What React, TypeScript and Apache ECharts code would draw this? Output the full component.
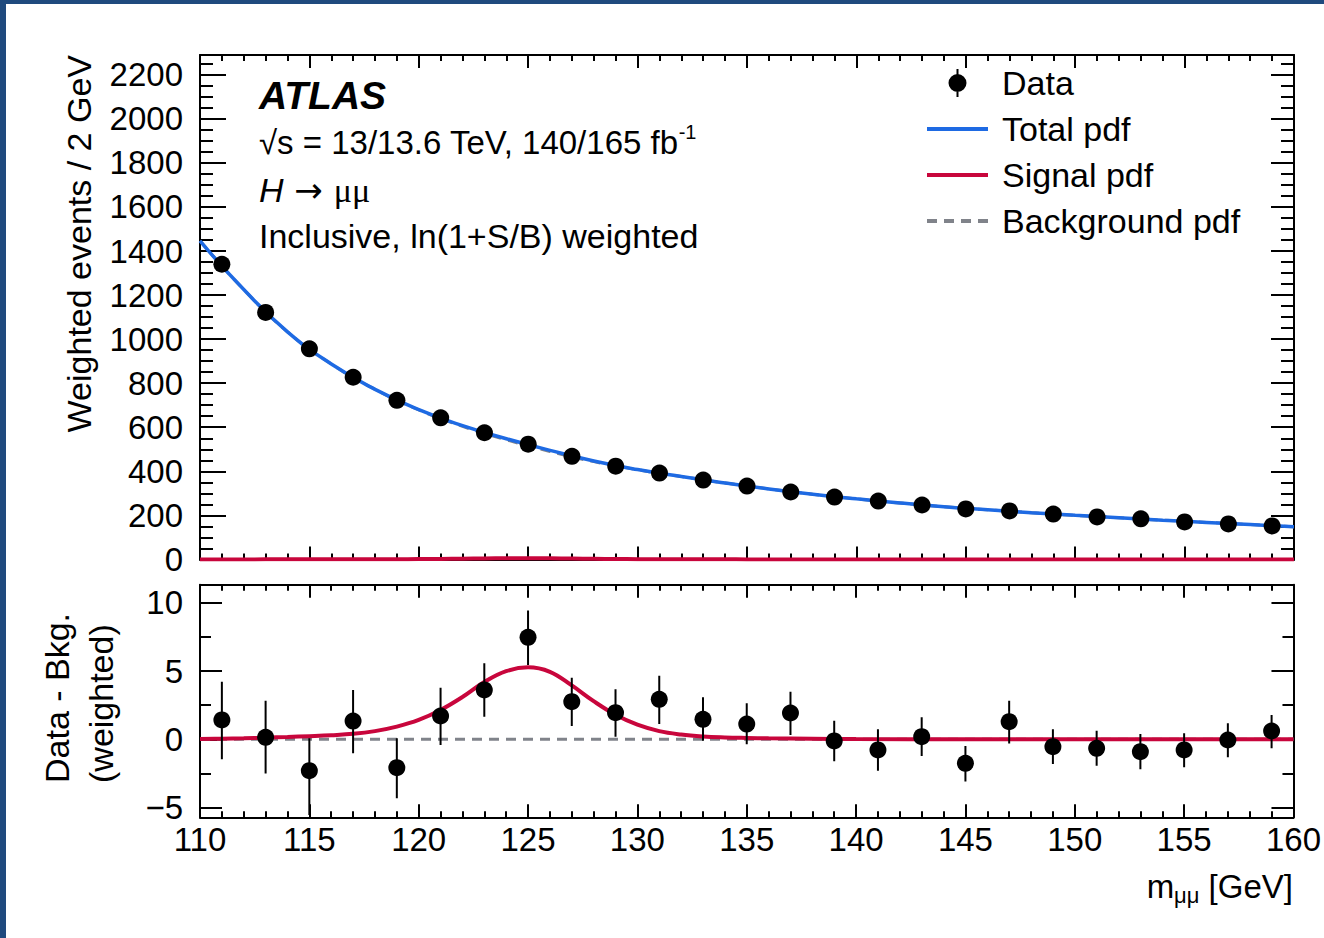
import React, { useEffect, useRef } from "react";
import * as echarts from "echarts";

// ---------------- data ----------------
const X_MIN = 110;
const X_MAX = 160;
const X_INTERVAL = 5;
const TOP_Y_MIN = 0;
const TOP_Y_MAX = 2290;
const TOP_Y_MAJOR = 200;
const TOP_Y_MINOR = 50;
const BOT_Y_MIN = -5.72;
const BOT_Y_MAX = 11.34;
const BOT_Y_MAJOR = 5;
const BOT_Y_MINOR = 2.5;

const massCenters = [111, 113, 115, 117, 119, 121, 123, 125, 127, 129, 131, 133, 135, 137, 139, 141, 143, 145, 147, 149, 151, 153, 155, 157, 159];
const weightedEvents = [1340, 1121, 956, 827, 722, 643, 575, 523, 468, 423, 392, 360, 333, 306, 283, 265, 247, 229, 220, 206, 193, 184, 170, 161, 152];

const pdfMass = [110, 112, 114, 116, 118, 120, 122, 124, 126, 128, 130, 132, 134, 136, 138, 140, 142, 144, 146, 148, 150, 152, 154, 156, 158, 160];
const totalPdf = [1446, 1225, 1033, 887, 772, 680, 607, 548, 495, 447, 408, 376, 347, 320, 296, 275, 256, 239, 225, 212, 200, 189, 178, 168, 158, 148];
const backgroundPdf = [1446, 1225, 1033, 887, 772, 679, 604, 543, 490, 444, 407, 376, 347, 320, 296, 275, 256, 239, 225, 212, 200, 189, 178, 168, 158, 148];

const signalMass = [110, 111, 112, 113, 114, 115, 116, 117, 118, 119, 120, 121, 122, 123, 124, 125, 126, 127, 128, 129, 130, 131, 132, 133, 134, 135, 136, 138, 140, 145, 150, 160];
const signalPdf = [0.03, 0.05, 0.08, 0.12, 0.17, 0.23, 0.3, 0.4, 0.6, 0.93, 1.42, 2.15, 3.1, 4.2, 5.0, 5.28, 4.95, 3.95, 2.8, 1.8, 1.07, 0.6, 0.35, 0.21, 0.14, 0.1, 0.07, 0.04, 0.02, 0.01, 0.005, 0];

const residuals = [1.42, 0.15, -2.3, 1.34, -2.08, 1.71, 3.62, 7.48, 2.76, 1.95, 2.93, 1.47, 1.12, 1.93, -0.12, -0.78, 0.19, -1.76, 1.29, -0.54, -0.66, -0.91, -0.78, -0.05, 0.61];
const residualErrUp = [2.81, 2.68, 2.37, 2.28, 2.15, 2.08, 1.96, 1.96, 1.76, 1.72, 1.74, 1.61, 1.52, 1.56, 1.48, 1.51, 1.42, 1.27, 1.54, 1.27, 1.29, 1.3, 1.22, 1.22, 1.17];
const residualErrDown = [2.89, 2.65, 3.25, 2.37, 2.25, 2.13, 1.96, 2.03, 1.78, 1.76, 1.81, 1.57, 1.49, 1.61, 1.48, 1.52, 1.41, 1.34, 1.59, 1.27, 1.27, 1.29, 1.27, 1.27, 1.27];

const bkgLineMass = [110, 160];
const bkgLineValue = [0, 0];

// ---------------- styles ----------------
const FONT = "Liberation Sans";
const BLUE = "#1e6ae3";
const RED = "#c8063c";
const GRAY = "#80838a";
const BORDER = "#1f4a7e";
const TXT = 34;

const frameLine = (show: boolean) => ({ show, onZero: false, lineStyle: { color: "#000", width: 2 } });

function xAxisCfg(gridIndex: number, position: string, showLabels: boolean) {
  return {
    type: "value",
    gridIndex,
    position,
    min: X_MIN,
    max: X_MAX,
    interval: X_INTERVAL,
    axisLine: frameLine(true),
    axisTick: { show: true, inside: true, length: 13, lineStyle: { color: "#000", width: 2 } },
    minorTick: { show: true, splitNumber: 5, length: 6, lineStyle: { color: "#000", width: 2 } },
    axisLabel: { show: showLabels, margin: 6, fontSize: 33, fontFamily: FONT, color: "#000" },
    splitLine: { show: false },
    minorSplitLine: { show: false },
  };
}

function yAxisCfg(
  gridIndex: number,
  position: string,
  min: number,
  max: number,
  step: number,
  tickLen: number,
  showLabels: boolean,
  showLine: boolean
) {
  return {
    type: "value",
    gridIndex,
    position,
    min,
    max,
    minInterval: step,
    maxInterval: step,
    axisLine: frameLine(showLine),
    axisTick: { show: true, inside: true, length: tickLen, lineStyle: { color: "#000", width: 2 } },
    axisLabel: {
      show: showLabels,
      margin: 17,
      fontSize: 33,
      fontFamily: FONT,
      color: "#000",
      showMinLabel: min % step === 0,
      showMaxLabel: false,
      formatter: (v: number) => String(v).replace("-", "\u2212"),
    },
    splitLine: { show: false },
  };
}

const dataIcon = "path://M-1,-14L1,-14L1,14L-1,14Z M-9,0A9,9,0,1,1,9,0A9,9,0,1,1,-9,0Z";
const solidIcon = "path://M0,0L61,0L61,4L0,4Z";
const dashedIcon = "path://M0,0L10,0L10,4L0,4Z M17,0L27,0L27,4L17,4Z M34,0L44,0L44,4L34,4Z M51,0L61,0L61,4L51,4Z";

const plainText = (x: number, y: number, text: string, font: string, align: string, rotation = 0) => ({
  type: "text",
  x,
  y,
  rotation,
  style: {
    text,
    font,
    fill: "#000",
    align,
    textAlign: align,
    verticalAlign: "middle",
    textVerticalAlign: "middle",
  },
});

export default function App() {
  const ref = useRef<HTMLDivElement>(null);

  useEffect(() => {
    if (!ref.current) return;
    const chart = echarts.init(ref.current, null, { renderer: "svg" });

    const option: any = {
      animation: false,
      backgroundColor: "#ffffff",
      grid: [
        { left: 200, top: 55, width: 1094, height: 504.4 },
        { left: 200, top: 584.7, width: 1094, height: 232.6 },
      ],
      xAxis: [
        xAxisCfg(0, "bottom", false),
        xAxisCfg(0, "top", false),
        xAxisCfg(1, "bottom", true),
        xAxisCfg(1, "top", false),
      ],
      yAxis: [
        yAxisCfg(0, "left", TOP_Y_MIN, TOP_Y_MAX, TOP_Y_MAJOR, 26, true, true),
        yAxisCfg(0, "left", TOP_Y_MIN, TOP_Y_MAX, TOP_Y_MINOR, 13, false, false),
        yAxisCfg(0, "right", TOP_Y_MIN, TOP_Y_MAX, TOP_Y_MAJOR, 23, false, true),
        yAxisCfg(0, "right", TOP_Y_MIN, TOP_Y_MAX, TOP_Y_MINOR, 13, false, false),
        yAxisCfg(1, "left", BOT_Y_MIN, BOT_Y_MAX, BOT_Y_MAJOR, 22, true, true),
        yAxisCfg(1, "left", BOT_Y_MIN, BOT_Y_MAX, BOT_Y_MINOR, 11, false, false),
        yAxisCfg(1, "right", BOT_Y_MIN, BOT_Y_MAX, BOT_Y_MAJOR, 22, false, true),
        yAxisCfg(1, "right", BOT_Y_MIN, BOT_Y_MAX, BOT_Y_MINOR, 11, false, false),
      ],
      legend: {
        left: 922,
        top: 60,
        orient: "vertical",
        itemWidth: 61,
        itemHeight: 28,
        itemGap: 10,
        selectedMode: false,
        textStyle: { fontSize: TXT, fontFamily: FONT, color: "#000", lineHeight: 36, padding: [0, 0, 0, 9] },
        data: [
          { name: "Data", icon: dataIcon },
          { name: "Total pdf", icon: solidIcon },
          { name: "Signal pdf", icon: solidIcon },
          { name: "Background pdf", icon: dashedIcon },
        ],
      },
      series: [
        {
          type: "line",
          name: "Background pdf",
          xAxisIndex: 0,
          yAxisIndex: 0,
          data: pdfMass.map((m, i) => [m, backgroundPdf[i]]),
          symbol: "none",
          smooth: true,
          lineStyle: { color: GRAY, width: 3, type: [10, 7] },
          itemStyle: { color: GRAY },
          z: 2,
        },
        {
          type: "line",
          name: "Total pdf",
          xAxisIndex: 0,
          yAxisIndex: 0,
          data: pdfMass.map((m, i) => [m, totalPdf[i]]),
          symbol: "none",
          smooth: true,
          lineStyle: { color: BLUE, width: 3.5 },
          itemStyle: { color: BLUE },
          z: 3,
        },
        {
          type: "line",
          name: "Signal pdf",
          xAxisIndex: 0,
          yAxisIndex: 0,
          data: signalMass.map((m, i) => [m, signalPdf[i]]),
          symbol: "none",
          smooth: 0.4,
          lineStyle: { color: RED, width: 4 },
          itemStyle: { color: RED },
          z: 3,
        },
        {
          type: "scatter",
          name: "Data",
          xAxisIndex: 0,
          yAxisIndex: 0,
          data: massCenters.map((m, i) => [m, weightedEvents[i]]),
          symbol: "circle",
          symbolSize: 17,
          itemStyle: { color: "#000", opacity: 1 },
          z: 5,
        },
        {
          type: "line",
          name: "Background pdf",
          xAxisIndex: 2,
          yAxisIndex: 4,
          data: bkgLineMass.map((m, i) => [m, bkgLineValue[i]]),
          symbol: "none",
          lineStyle: { color: GRAY, width: 3, type: [10, 7] },
          itemStyle: { color: GRAY },
          z: 2,
        },
        {
          type: "line",
          name: "Signal pdf",
          xAxisIndex: 2,
          yAxisIndex: 4,
          data: signalMass.map((m, i) => [m, signalPdf[i]]),
          symbol: "none",
          smooth: 0.4,
          lineStyle: { color: RED, width: 4 },
          itemStyle: { color: RED },
          z: 3,
        },
        {
          type: "custom",
          name: "Data",
          xAxisIndex: 2,
          yAxisIndex: 4,
          clip: true,
          encode: { x: 0, y: [1, 2] },
          data: massCenters.map((m, i) => [m, residuals[i] - residualErrDown[i], residuals[i] + residualErrUp[i]]),
          renderItem: (params: any, api: any) => {
            const p1 = api.coord([api.value(0), api.value(1)]);
            const p2 = api.coord([api.value(0), api.value(2)]);
            return {
              type: "line",
              shape: { x1: p1[0], y1: p1[1], x2: p2[0], y2: p2[1] },
              style: { stroke: "#000", lineWidth: 2 },
            };
          },
          itemStyle: { color: "#000" },
          z: 4,
        },
        {
          type: "scatter",
          name: "Data",
          xAxisIndex: 2,
          yAxisIndex: 4,
          data: massCenters.map((m, i) => [m, residuals[i]]),
          symbol: "circle",
          symbolSize: 17,
          itemStyle: { color: "#000", opacity: 1 },
          z: 5,
        },
      ],
      graphic: [
        { type: "rect", shape: { x: 0, y: 0, width: 1324, height: 4 }, style: { fill: BORDER }, silent: true },
        { type: "rect", shape: { x: 0, y: 0, width: 6, height: 938 }, style: { fill: BORDER }, silent: true },
        plainText(79, 55, "Weighted events / 2 GeV", `${TXT}px "${FONT}"`, "right", Math.PI / 2),
        plainText(57, 783, "Data - Bkg.", `${TXT}px "${FONT}"`, "left", Math.PI / 2),
        plainText(101, 783, "(weighted)", `${TXT}px "${FONT}"`, "left", Math.PI / 2),
        {
          type: "text",
          x: 1293,
          y: 886,
          style: {
            text: "{a|m}{s|\u03bc\u03bc}{a| [GeV]}",
            align: "right",
            textAlign: "right",
            verticalAlign: "middle",
            textVerticalAlign: "middle",
            fill: "#000",
            rich: {
              a: { fontSize: 33, fontFamily: FONT, lineHeight: 40, fill: "#000" },
              s: { fontSize: 22, fontFamily: FONT, lineHeight: 16, verticalAlign: "bottom", fill: "#000" },
            },
          },
        },
        plainText(259, 95, "ATLAS", `italic bold 39px "${FONT}"`, "left"),
        {
          type: "text",
          x: 259,
          y: 142,
          style: {
            text: "{a|\u221as = 13/13.6 TeV, 140/165 fb}{s|-1}",
            align: "left",
            textAlign: "left",
            verticalAlign: "middle",
            textVerticalAlign: "middle",
            fill: "#000",
            rich: {
              a: { fontSize: 33, fontFamily: FONT, lineHeight: 40, fill: "#000" },
              s: { fontSize: 20, fontFamily: FONT, lineHeight: 14, verticalAlign: "top", fill: "#000" },
            },
          },
        },
        {
          type: "text",
          x: 259,
          y: 190,
          style: {
            text: "{h|H}{a|\u00a0\u2192\u00a0}{m|\u03bc\u03bc}",
            align: "left",
            textAlign: "left",
            verticalAlign: "middle",
            textVerticalAlign: "middle",
            fill: "#000",
            rich: {
              h: { fontSize: TXT, fontFamily: FONT, fontStyle: "italic", lineHeight: 40, fill: "#000" },
              a: { fontSize: TXT, fontFamily: "DejaVu Sans", lineHeight: 40, fill: "#000" },
              m: { fontSize: TXT, fontFamily: "Liberation Serif", lineHeight: 40, fill: "#000" },
            },
          },
        },
        plainText(259, 236, "Inclusive, ln(1+S/B) weighted", `${TXT}px "${FONT}"`, "left"),
      ],
    };

    chart.setOption(option);
    return () => chart.dispose();
  }, []);

  return (
    <div
      ref={ref}
      style={{ position: "absolute", left: 0, top: 0, width: 1324, height: 938, background: "#fff" }}
    />
  );
}
